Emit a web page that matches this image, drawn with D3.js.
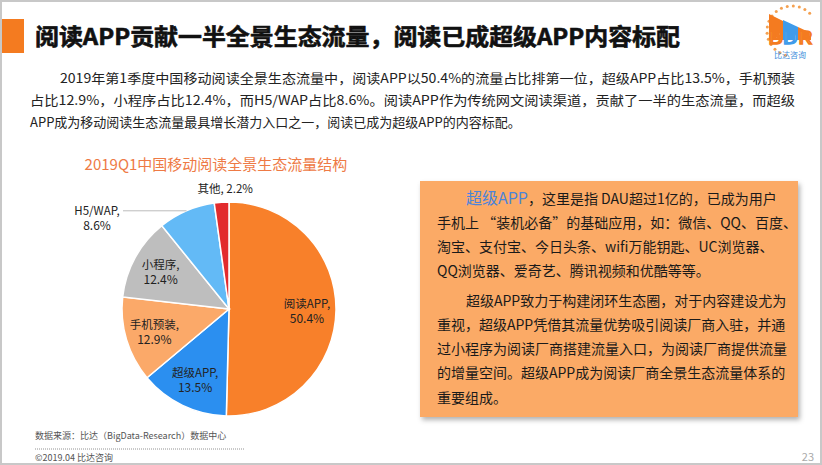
<!DOCTYPE html>
<html>
<head>
<meta charset="utf-8">
<script src="https://cdn.jsdelivr.net/npm/d3@7"></script>
<style>
  body { margin: 0; background: #fff; }
  svg { display: block; }
  text { font-family: "Noto Sans CJK SC", "Noto Sans", sans-serif; }
</style>
</head>
<body>
<div id="chart"></div>
<script>
// data
let categories = ["阅读APP", "超级APP", "手机预装", "小程序", "H5/WAP", "其他"];
let shares = [50.4, 13.5, 12.9, 12.4, 8.6, 2.2];
let colors = ["#F8802A", "#2B8FF0", "#FBA969", "#BEBEBE", "#63BAF6", "#E22B2D"];
let outsideLabels = ["H5/WAP", "其他"];

let pageTitle = "阅读APP贡献一半全景生态流量，阅读已成超级APP内容标配";
let chartTitle = "2019Q1中国移动阅读全景生态流量结构";
let introLines = [
  "2019年第1季度中国移动阅读全景生态流量中，阅读APP以50.4%的流量占比排第一位，超级APP占比13.5%，手机预装",
  "占比12.9%，小程序占比12.4%，而H5/WAP占比8.6%。阅读APP作为传统网文阅读渠道，贡献了一半的生态流量，而超级",
  "APP成为移动阅读生态流量最具增长潜力入口之一，阅读已成为超级APP的内容标配。"
];
let boxLines = [
  "，这里是指 DAU超过1亿的，已成为用户",
  "手机上 “装机必备”的基础应用，如：微信、QQ、百度、",
  "淘宝、支付宝、今日头条、wifi万能钥匙、UC浏览器、",
  "QQ浏览器、爱奇艺、腾讯视频和优酷等等。",
  "超级APP致力于构建闭环生态圈，对于内容建设尤为",
  "重视，超级APP凭借其流量优势吸引阅读厂商入驻，并通",
  "过小程序为阅读厂商搭建流量入口，为阅读厂商提供流量",
  "的增量空间。超级APP成为阅读厂商全景生态流量体系的",
  "重要组成。"
];

let W = 822, H = 465;
let svg = d3.select("#chart").append("svg").attr("width", W).attr("height", H);

// slide frame
svg.append("rect").attr("x", 1).attr("y", 1).attr("width", W - 2).attr("height", H - 2)
  .attr("fill", "#fff").attr("stroke", "#c8c8c8").attr("stroke-width", 2);

// header
svg.append("rect").attr("x", 2).attr("y", 19).attr("width", 22).attr("height", 34).attr("fill", "#F47B20");
svg.append("text").attr("x", 35).attr("y", 45)
  .attr("font-size", 23).attr("font-weight", "bold").attr("fill", "#111")
  .attr("stroke", "#111").attr("stroke-width", 0.6)
  .attr("textLength", 645).attr("lengthAdjust", "spacingAndGlyphs")
  .text(pageTitle);

// logo
let logo = svg.append("g");
d3.range(16).forEach(i => {
  let a = (195 + i * 14) * Math.PI / 180;
  logo.append("circle").attr("cx", 792 + 25 * Math.sin(a)).attr("cy", 31 - 25 * Math.cos(a))
    .attr("r", 1.5).attr("fill", "#F4A050");
});
logo.append("path").attr("d", "M769,40 L769,14 L783,21 L783,40 Z").attr("fill", "#F47B20");
logo.append("path").attr("d", "M783,40 L783,20 L798,27 L798,40 Z").attr("fill", "#3F9BEA");
logo.append("path").attr("d", "M798,40 L798,27 L811,33 L811,40 Z").attr("fill", "#F47B20");
let bdr = logo.append("text").attr("x", 768).attr("y", 44)
  .attr("font-size", 17).attr("font-family", "Liberation Sans, sans-serif")
  .attr("textLength", 44).attr("lengthAdjust", "spacingAndGlyphs")
  .attr("fill", "#fff").attr("stroke-width", 1.4);
bdr.append("tspan").attr("stroke", "#F47B20").text("B");
bdr.append("tspan").attr("stroke", "#3F9BEA").text("D");
bdr.append("tspan").attr("stroke", "#F47B20").text("R");
logo.append("text").attr("x", 790).attr("y", 58).attr("text-anchor", "middle")
  .attr("font-size", 8).attr("fill", "#3E8EDB").text("比达咨询");

// intro paragraph
let intro = svg.append("g").attr("font-size", 13).attr("fill", "#222");
introLines.forEach((t, i) => {
  let x = i === 0 ? 60 : 30;
  let w = i === 0 ? 735 : (i === 1 ? 765 : null);
  let el = intro.append("text").attr("x", x).attr("y", 83 + i * 22).text(t);
  if (w) el.attr("textLength", w).attr("lengthAdjust", "spacingAndGlyphs");
});

// chart title
svg.append("text").attr("x", 216).attr("y", 170).attr("text-anchor", "middle")
  .attr("font-size", 15).attr("fill", "#EE7A45").text(chartTitle);

// pie
let cx = 229, cy = 309, R = 107;
let data = categories.map((c, i) => ({ name: c, value: shares[i], color: colors[i] }));
let pie = d3.pie().value(d => d.value).sort(null);
let arcs = pie(data);
let arc = d3.arc().innerRadius(0).outerRadius(R);
let labelArc = d3.arc().innerRadius(78).outerRadius(78);

let g = svg.append("g").attr("transform", `translate(${cx},${cy})`);
g.selectAll("path.slice").data(arcs).enter().append("path")
  .attr("class", "slice")
  .attr("d", arc)
  .attr("fill", d => d.data.color)
  .attr("stroke", "#fff").attr("stroke-width", 1.5);

let lab = g.append("g").attr("font-size", 11.5).attr("fill", "#222").attr("text-anchor", "middle");
function twoLine(x, y, name, pct) {
  lab.append("text").attr("x", x).attr("y", y).text(name + ",");
  lab.append("text").attr("x", x).attr("y", y + 15)
    .attr("font-size", 12).attr("font-family", "Liberation Sans, sans-serif").text(pct);
}
arcs.forEach(d => {
  let name = d.data.name, pct = d.data.value.toFixed(1) + "%";
  let mid = (d.startAngle + d.endAngle) / 2;
  if (outsideLabels.indexOf(name) < 0) {
    let [x, y] = labelArc.centroid(d);
    twoLine(x, y - 2, name, pct);
  } else if (name === "其他") {
    let x = (R + 6) * Math.sin(mid) + 4, y = -(R + 6) * Math.cos(mid);
    lab.append("text").attr("x", x).attr("y", y - 3).text(name + ", " + pct);
  } else {
    let px = R * Math.sin(mid), py = -R * Math.cos(mid);
    g.append("line").attr("x1", -106).attr("y1", py).attr("x2", px).attr("y2", py)
      .attr("stroke", "#bbb").attr("stroke-width", 1);
    twoLine(-132, py + 4, name, pct);
  }
});

// text box
let defs = svg.append("defs");
let f = defs.append("filter").attr("id", "shadow").attr("x", "-5%").attr("y", "-5%").attr("width", "112%").attr("height", "115%");
f.append("feDropShadow").attr("dx", 2).attr("dy", 3).attr("stdDeviation", 2.5).attr("flood-color", "#000").attr("flood-opacity", 0.3);
svg.append("rect").attr("x", 420).attr("y", 181).attr("width", 378).attr("height", 236)
  .attr("fill", "#FBAA66").attr("filter", "url(#shadow)");

let box = svg.append("g").attr("font-size", 14).attr("fill", "#1a1a1a");
let bt = box.append("text").attr("x", 466).attr("y", 204);
bt.append("tspan").attr("font-size", 16).attr("fill", "#4C84DA").text("超级APP");
bt.append("tspan").text(boxLines[0]);
let lineY = [204, 228, 252, 276, 306, 330, 354, 378, 403];
boxLines.slice(1).forEach((t, i) => {
  let k = i + 1;
  let x = k === 4 ? 466 : 437;
  box.append("text").attr("x", x).attr("y", lineY[k]).text(t);
});

// footer
let foot = svg.append("g").attr("font-size", 9).attr("fill", "#555");
foot.append("text").attr("x", 35).attr("y", 439).text("数据来源：比达（BigData-Research）数据中心");
foot.append("line").attr("x1", 35).attr("x2", 245).attr("y1", 449).attr("y2", 449)
  .attr("stroke", "#777").attr("stroke-dasharray", "1,1").attr("stroke-width", 0.8);
foot.append("text").attr("x", 35).attr("y", 461).text("©2019.04  比达咨询");
svg.append("text").attr("x", 814).attr("y", 461).attr("text-anchor", "end")
  .attr("font-size", 11).attr("fill", "#aaa").text("23");
</script>
</body>
</html>
